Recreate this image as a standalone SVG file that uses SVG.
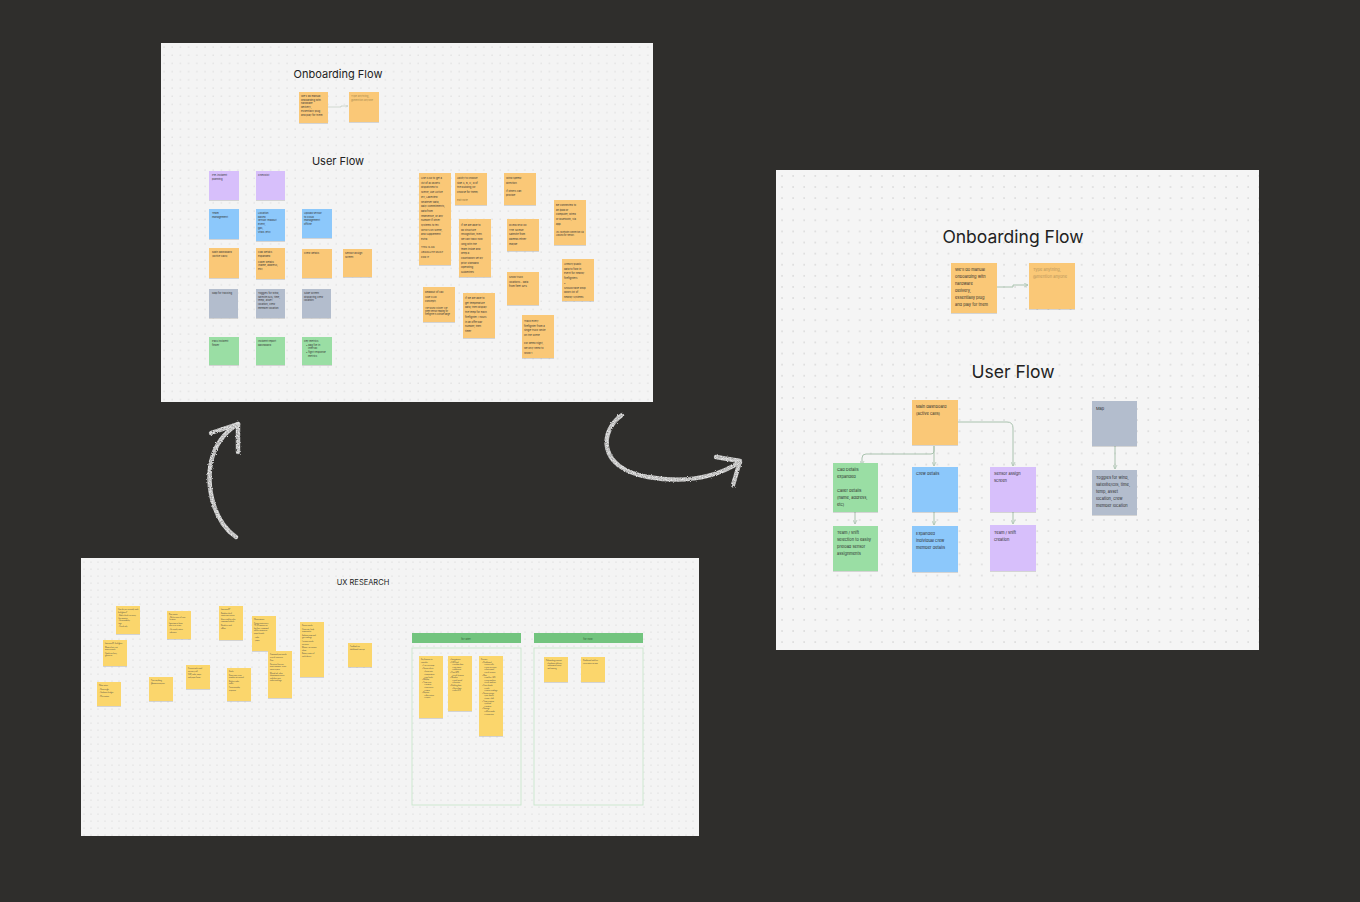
<svg xmlns="http://www.w3.org/2000/svg" width="1360" height="902" viewBox="0 0 1360 902">
<defs>
<style>
.panel{fill:#f4f4f4}
.o{fill:#fac877}.p{fill:#d7bffb}.b{fill:#8cc8fb}.g{fill:#9adea4}.gr{fill:#b3bdcd}.y{fill:#fbd66c}
.t1{font-family:Inter,"Liberation Sans",sans-serif;font-size:4px;fill:#2d2d2d}
.t1l{font-family:Inter,"Liberation Sans",sans-serif;font-size:4px;fill:#b8955c}
.t2{font-family:Inter,"Liberation Sans",sans-serif;font-size:2.6px;fill:#333}
.t2l{font-family:Inter,"Liberation Sans",sans-serif;font-size:2.6px;fill:#a8884f}
.t3{font-family:Inter,"Liberation Sans",sans-serif;font-size:1.6px;fill:#444}
.title{font-family:Inter,"Liberation Sans",sans-serif;fill:#222;text-anchor:middle}
.con{fill:none;stroke:#a9c2ae;stroke-width:1}
.con2{fill:none;stroke:#b9c6bb;stroke-width:0.6}
.chalk{fill:none;stroke:#e4e4e4;stroke-width:4.4;stroke-linecap:round;stroke-linejoin:round}
</style>
<pattern id="dR" width="11.1" height="11.1" patternUnits="userSpaceOnUse" x="781" y="175"><circle cx="1" cy="1" r="0.7" fill="#c2c2c2"/></pattern>
<pattern id="dT" width="8.2" height="8.2" patternUnits="userSpaceOnUse" x="163" y="46"><circle cx="1" cy="1" r="0.55" fill="#c8c8c8"/></pattern>
<pattern id="dB" width="7" height="7" patternUnits="userSpaceOnUse" x="83" y="561"><circle cx="1" cy="1" r="0.5" fill="#c8c8c8"/></pattern>
<filter id="sh" x="-20%" y="-20%" width="140%" height="140%"><feDropShadow dx="0" dy="0.6" stdDeviation="0.5" flood-color="#000" flood-opacity="0.22"/></filter>
<filter id="rough" x="-10%" y="-10%" width="120%" height="120%"><feTurbulence type="fractalNoise" baseFrequency="1.2" numOctaves="2" result="n"/><feDisplacementMap in="SourceGraphic" in2="n" scale="2.5" result="d"/><feTurbulence type="fractalNoise" baseFrequency="2.2" numOctaves="1" result="n2"/><feColorMatrix in="n2" type="matrix" values="0 0 0 0 0  0 0 0 0 0  0 0 0 0 0  0 0 0 -0.9 1.3" result="m"/><feComposite in="d" in2="m" operator="in"/></filter>
<marker id="ah" viewBox="0 0 10 10" refX="9" refY="5" markerWidth="5" markerHeight="5" orient="auto" markerUnits="userSpaceOnUse"><path d="M1,1 L9,5 L1,9" fill="none" stroke="#a9c2ae" stroke-width="1.4"/></marker>
<marker id="ah2" viewBox="0 0 10 10" refX="9" refY="5" markerWidth="3" markerHeight="3" orient="auto" markerUnits="userSpaceOnUse"><path d="M1,1 L9,5 L1,9" fill="none" stroke="#b9c6bb" stroke-width="1.4"/></marker>
</defs>

<rect width="1360" height="902" fill="#2f2e2c"/>

<!-- Top-left panel -->
<g id="panel-top">
<rect class="panel" x="161" y="43" width="492" height="359"/>
<rect fill="url(#dT)" x="161" y="43" width="492" height="359"/>
<text class="title" x="338" y="78" font-size="11">Onboarding Flow</text>
<text class="title" x="338" y="165" font-size="11">User Flow</text>
<g id="tl-notes" filter="url(#sh)">
<rect class="o" x="299" y="92" width="29" height="31"/>
<rect class="o" x="349" y="92" width="30" height="30"/>
<rect class="p" x="209" y="171" width="30" height="29"/>
<rect class="p" x="256" y="171" width="29" height="29"/>
<rect class="b" x="209" y="209" width="30" height="30"/>
<rect class="b" x="256" y="209" width="29" height="32"/>
<rect class="b" x="302" y="209" width="30" height="29"/>
<rect class="o" x="209" y="248" width="30" height="30"/>
<rect class="o" x="256" y="248" width="29" height="31"/>
<rect class="o" x="302" y="249" width="30" height="29"/>
<rect class="o" x="343" y="249" width="29" height="28"/>
<rect class="gr" x="209" y="289" width="29" height="29"/>
<rect class="gr" x="256" y="289" width="29" height="29"/>
<rect class="gr" x="302" y="289" width="29" height="29"/>
<rect class="g" x="209" y="337" width="30" height="28"/>
<rect class="g" x="256" y="337" width="29" height="28"/>
<rect class="g" x="302" y="337" width="30" height="28"/>
<rect class="o" x="419" y="173" width="32" height="92"/>
<rect class="o" x="455" y="173" width="32" height="32"/>
<rect class="o" x="504" y="173" width="32" height="32"/>
<rect class="o" x="459" y="219" width="32" height="58"/>
<rect class="o" x="507" y="219" width="32" height="32"/>
<rect class="o" x="554" y="200" width="32" height="45"/>
<rect class="o" x="562" y="259" width="32" height="42"/>
<rect class="o" x="423" y="287" width="32" height="35"/>
<rect class="o" x="463" y="293" width="32" height="45"/>
<rect class="o" x="507" y="272" width="32" height="33"/>
<rect class="o" x="522" y="315" width="32" height="43"/>
</g>
<path class="con2" d="M328,107 L341,107 L341,106 L348,106" marker-end="url(#ah2)"/>
<g id="tl-text">
<text class="t2" x="301" y="97"><tspan x="301">We'll do manual</tspan><tspan x="301" dy="3.7">onboarding with</tspan><tspan x="301" dy="3.7">hardware</tspan><tspan x="301" dy="3.7">delivery,</tspan><tspan x="301" dy="3.7">essentially plug</tspan><tspan x="301" dy="3.7">and play for them</tspan></text>
<text class="t2l" x="351" y="97"><tspan x="351">Type anything,</tspan><tspan x="351" dy="3.7">@mention anyone</tspan></text>
<text class="t2" x="212" y="176"><tspan x="212">Pre-incident</tspan><tspan x="212" dy="3.7">planning</tspan></text>
<text class="t2" x="258" y="176">Checklist</text>
<text class="t2" x="212" y="214"><tspan x="212">Team</tspan><tspan x="212" dy="3.7">management</tspan></text>
<text class="t2" x="258" y="214"><tspan x="258">Location</tspan><tspan x="258" dy="3.7">based</tspan><tspan x="258" dy="3.7">sensor readout:</tspan><tspan x="258" dy="3.7">Event,</tspan><tspan x="258" dy="3.7">gas,</tspan><tspan x="258" dy="3.7">vitals (etc)</tspan></text>
<text class="t2" x="304" y="214"><tspan x="304">Upload sensor</tspan><tspan x="304" dy="3.7">to cloud</tspan><tspan x="304" dy="3.7">management</tspan><tspan x="304" dy="3.7">offline</tspan></text>
<text class="t2" x="212" y="253"><tspan x="212">Main dashboard</tspan><tspan x="212" dy="3.7">(active calls)</tspan></text>
<text class="t2" x="258" y="253"><tspan x="258">Cad Details</tspan><tspan x="258" dy="3.7">expanded</tspan><tspan x="258" dy="6">Caller details</tspan><tspan x="258" dy="3.7">(name, address,</tspan><tspan x="258" dy="3.7">etc)</tspan></text>
<text class="t2" x="304" y="254">Crew details</text>
<text class="t2" x="345" y="254"><tspan x="345">Sensor assign</tspan><tspan x="345" dy="3.7">screen</tspan></text>
<text class="t2" x="212" y="294">Map for tracking</text>
<text class="t2" x="258" y="294"><tspan x="258">Toggles for wind,</tspan><tspan x="258" dy="3.7">satellite/GIS, time,</tspan><tspan x="258" dy="3.7">temp, asset</tspan><tspan x="258" dy="3.7">location, crew</tspan><tspan x="258" dy="3.7">member location</tspan></text>
<text class="t2" x="304" y="294"><tspan x="304">Slide screen</tspan><tspan x="304" dy="3.7">displaying crew</tspan><tspan x="304" dy="3.7">location</tspan></text>
<text class="t2" x="212" y="342"><tspan x="212">Pass incident</tspan><tspan x="212" dy="3.7">finder</tspan></text>
<text class="t2" x="258" y="342"><tspan x="258">Incident report</tspan><tspan x="258" dy="3.7">dashboard</tspan></text>
<text class="t2" x="304" y="342"><tspan x="304">Key metrics:</tspan><tspan x="306" dy="3.7">• bag file in</tspan><tspan x="308" dy="3.7">interval</tspan><tspan x="306" dy="3.7">• fight response</tspan><tspan x="308" dy="3.7">metrics</tspan></text>
<text class="t2" x="421" y="179"><tspan x="421">Use CAD to get a</tspan><tspan x="421" dy="4.7">list of all assets</tspan><tspan x="421" dy="4.7">dispatched to</tspan><tspan x="421" dy="4.7">scene, use Active</tspan><tspan x="421" dy="4.7">911, Lakeview</tspan><tspan x="421" dy="4.7">whatever data,</tspan><tspan x="421" dy="4.7">daily commitments,</tspan><tspan x="421" dy="4.7">data from</tspan><tspan x="421" dy="4.7">rebellence, or any</tspan><tspan x="421" dy="4.7">number if other</tspan><tspan x="421" dy="4.7">systems to tell</tspan><tspan x="421" dy="4.7">WHO's on scene,</tspan><tspan x="421" dy="4.7">and supplement</tspan><tspan x="421" dy="4.7">extra.</tspan><tspan x="421" dy="8">THIS IS AN</tspan><tspan x="421" dy="4.7">ABSOLUTE MUST</tspan><tspan x="421" dy="4.7">FOR IT</tspan></text>
<text class="t2" x="457" y="179"><tspan x="457">Ability to choose</tspan><tspan x="457" dy="4.7">side A, B, C, D of</tspan><tspan x="457" dy="4.7">the building (or</tspan><tspan x="457" dy="4.7">choose for them)</tspan><tspan x="457" dy="8" fill="#8a6d3b">edit note</tspan></text>
<text class="t2" x="506" y="179"><tspan x="506">Wind speed/</tspan><tspan x="506" dy="4.7">direction</tspan><tspan x="506" dy="8">If others can</tspan><tspan x="506" dy="4.7">provide</tspan></text>
<text class="t2" x="461" y="226"><tspan x="461">If we are able to</tspan><tspan x="461" dy="4.7">do structure</tspan><tspan x="461" dy="4.7">recognition, then</tspan><tspan x="461" dy="4.7">we can track how</tspan><tspan x="461" dy="4.7">long with the</tspan><tspan x="461" dy="4.7">team inside and</tspan><tspan x="461" dy="4.7">keep a</tspan><tspan x="461" dy="4.7">countdown set by</tspan><tspan x="461" dy="4.7">prior Standard</tspan><tspan x="461" dy="4.7">Operating</tspan><tspan x="461" dy="4.7">Guidelines</tspan></text>
<text class="t2" x="509" y="226"><tspan x="509">OVERVIEW OF</tspan><tspan x="509" dy="4.7">THE SCENE:</tspan><tspan x="509" dy="4.7">Satellite from</tspan><tspan x="509" dy="4.7">Dbeeds either</tspan><tspan x="509" dy="4.7">maybe</tspan></text>
<text class="t2" x="556" y="206"><tspan x="556">Be connected to</tspan><tspan x="556" dy="4.7">an ipad or</tspan><tspan x="556" dy="4.7">computer, wired</tspan><tspan x="556" dy="4.7">or bluetooth, via</tspan><tspan x="556" dy="4.7">app.</tspan><tspan x="556" dy="8" font-size="2">(Ex: Bluetooth connection via</tspan><tspan x="556" dy="3" font-size="2">Arduino for sensor)</tspan></text>
<text class="t2" x="564" y="265"><tspan x="564">Armory public</tspan><tspan x="564" dy="4.7">data to flow in</tspan><tspan x="564" dy="4.7">event for nearby</tspan><tspan x="564" dy="4.7">firefighters</tspan><tspan x="564" dy="4.7">•</tspan><tspan x="564" dy="4.7">Should have drop</tspan><tspan x="564" dy="4.7">down list of</tspan><tspan x="564" dy="4.7">nearby systems</tspan></text>
<text class="t2" x="425" y="293"><tspan x="425">Readout of call</tspan><tspan x="425" dy="4.7">(use CAD</tspan><tspan x="425" dy="4.7">concept)</tspan><tspan x="425" dy="7" font-size="2">Use sound 'Clicker' cue</tspan><tspan x="425" dy="3" font-size="2">when sensor reading for</tspan><tspan x="425" dy="3" font-size="2">firefighter is outside range</tspan></text>
<text class="t2" x="465" y="299"><tspan x="465">If we are able to</tspan><tspan x="465" dy="4.7">get temperature</tspan><tspan x="465" dy="4.7">data, then display</tspan><tspan x="465" dy="4.7">the temp for each</tspan><tspan x="465" dy="4.7">firefighter / hours</tspan><tspan x="465" dy="4.7">in an offer bar</tspan><tspan x="465" dy="4.7">number, then</tspan><tspan x="465" dy="4.7">timer.</tspan></text>
<text class="t2" x="509" y="278"><tspan x="509">Show truck</tspan><tspan x="509" dy="4.7">locations - data</tspan><tspan x="509" dy="4.7">from fleet GPS</tspan></text>
<text class="t2" x="524" y="322"><tspan x="524">Track every</tspan><tspan x="524" dy="4.7">firefighter from a</tspan><tspan x="524" dy="4.7">single truck while</tspan><tspan x="524" dy="4.7">on the scene</tspan><tspan x="524" dy="8">For demo night,</tspan><tspan x="524" dy="4.7">we only need to</tspan><tspan x="524" dy="4.7">show 1</tspan></text>
</g>
</g>

<!-- Right panel -->
<g id="panel-right">
<rect fill="#f5f5f5" x="776" y="170" width="483" height="480"/>
<rect fill="url(#dR)" x="776" y="170" width="483" height="480"/>
<text class="title" x="1013" y="243" font-size="17.5">Onboarding Flow</text>
<text class="title" x="1013" y="378" font-size="17.5">User Flow</text>
</g>

<g id="connectors">
<path class="con" d="M997,287 L1013,287 L1013,285 L1028,285" marker-end="url(#ah)"/>
<path class="con" d="M934,446 L934,451 Q934,454 931,454 L866,454 Q862,454 862,458 L862,465" marker-end="url(#ah)"/>
<path class="con" d="M934,446 L934,466" marker-end="url(#ah)"/>
<path class="con" d="M957,422 L1007,422 Q1013,422 1013,428 L1013,466" marker-end="url(#ah)"/>
<path class="con" d="M855,512 L855,524" marker-end="url(#ah)"/>
<path class="con" d="M934,512 L934,525" marker-end="url(#ah)"/>
<path class="con" d="M1013,512 L1013,524" marker-end="url(#ah)"/>
<path class="con" d="M1115,446 L1115,469" marker-end="url(#ah)"/>
</g>

<g id="onb-1" filter="url(#sh)"><rect class="o" x="951" y="263" width="46" height="50"/></g>
<text class="t1" x="955" y="271"><tspan x="955">We'll do manual</tspan><tspan x="955" dy="7">onboarding with</tspan><tspan x="955" dy="7">hardware</tspan><tspan x="955" dy="7">delivery,</tspan><tspan x="955" dy="7">essentially plug</tspan><tspan x="955" dy="7">and play for them</tspan></text>
<g id="onb-2" filter="url(#sh)"><rect class="o" x="1029" y="263" width="46" height="46"/></g>
<text class="t1l" x="1033" y="271"><tspan x="1033">Type anything,</tspan><tspan x="1033" dy="7">@mention anyone</tspan></text>

<g id="main-dashboard" filter="url(#sh)"><rect class="o" x="912" y="400" width="46" height="45"/></g>
<text class="t1" x="916" y="408"><tspan x="916">Main dashboard</tspan><tspan x="916" dy="7">(active calls)</tspan></text>

<g id="map" filter="url(#sh)"><rect class="gr" x="1092" y="401" width="45" height="45"/></g>
<text class="t1" x="1096" y="410">Map</text>

<g id="toggles" filter="url(#sh)"><rect class="gr" x="1092" y="470" width="45" height="45"/></g>
<text class="t1" x="1096" y="479"><tspan x="1096">Toggles for wind,</tspan><tspan x="1096" dy="7">satellite/GIS, time,</tspan><tspan x="1096" dy="7">temp, asset</tspan><tspan x="1096" dy="7">location, crew</tspan><tspan x="1096" dy="7">member location</tspan></text>

<g id="cad-details" filter="url(#sh)"><rect class="g" x="833" y="463" width="45" height="49"/></g>
<text class="t1" x="837" y="471"><tspan x="837">Cad Details</tspan><tspan x="837" dy="7">expanded</tspan><tspan x="837" dy="14">Caller details</tspan><tspan x="837" dy="7">(name, address,</tspan><tspan x="837" dy="7">etc)</tspan></text>

<g id="team-selection" filter="url(#sh)"><rect class="g" x="833" y="526" width="45" height="45"/></g>
<text class="t1" x="837" y="534"><tspan x="837">Team / shift</tspan><tspan x="837" dy="7">selection to easily</tspan><tspan x="837" dy="7">preload sensor</tspan><tspan x="837" dy="7">assignments</tspan></text>

<g id="crew-details" filter="url(#sh)"><rect class="b" x="912" y="467" width="46" height="45"/></g>
<text class="t1" x="916" y="475">Crew details</text>

<g id="crew-expanded" filter="url(#sh)"><rect class="b" x="912" y="526" width="46" height="46"/></g>
<text class="t1" x="916" y="535"><tspan x="916">Expanded</tspan><tspan x="916" dy="7">individual crew</tspan><tspan x="916" dy="7">member details</tspan></text>

<g id="sensor-assign" filter="url(#sh)"><rect class="p" x="990" y="467" width="46" height="45"/></g>
<text class="t1" x="994" y="475"><tspan x="994">Sensor assign</tspan><tspan x="994" dy="7">screen</tspan></text>

<g id="team-creation" filter="url(#sh)"><rect class="p" x="990" y="525" width="46" height="46"/></g>
<text class="t1" x="994" y="534"><tspan x="994">Team / shift</tspan><tspan x="994" dy="7">creation</tspan></text>

<!-- Bottom panel -->
<g id="panel-bottom">
<rect class="panel" x="81" y="558" width="618" height="278"/>
<rect fill="url(#dB)" x="81" y="558" width="618" height="278"/>
<text class="title" x="363" y="585" font-size="7.5">UX RESEARCH</text>
<rect x="412" y="633" width="109" height="10" fill="#72c47e"/>
<rect x="534" y="633" width="109" height="10" fill="#72c47e"/>
<text x="466" y="639.5" font-family="Inter,'Liberation Sans',sans-serif" font-size="2.6" fill="#2f5e35" text-anchor="middle">for later</text>
<text x="588" y="639.5" font-family="Inter,'Liberation Sans',sans-serif" font-size="2.6" fill="#2f5e35" text-anchor="middle">for now</text>
<rect x="412" y="648" width="109" height="157" fill="none" stroke="#c9e6cd" stroke-width="0.9"/>
<rect x="534" y="648" width="109" height="157" fill="none" stroke="#c9e6cd" stroke-width="0.9"/>
<g filter="url(#sh)">
<rect class="y" x="116" y="606" width="24" height="28"/>
<rect class="y" x="167" y="611" width="24" height="28"/>
<rect class="y" x="219" y="606" width="24" height="34"/>
<rect class="y" x="252" y="616" width="24" height="35"/>
<rect class="y" x="300" y="622" width="24" height="55"/>
<rect class="y" x="348" y="643" width="24" height="24"/>
<rect class="y" x="103" y="640" width="24" height="26"/>
<rect class="y" x="268" y="651" width="24" height="47"/>
<rect class="y" x="186" y="665" width="24" height="24"/>
<rect class="y" x="227" y="668" width="24" height="33"/>
<rect class="y" x="149" y="677" width="24" height="24"/>
<rect class="y" x="97" y="682" width="24" height="24"/>
<rect class="y" x="419" y="656" width="24" height="62"/>
<rect class="y" x="448" y="656" width="24" height="55"/>
<rect class="y" x="479" y="656" width="24" height="80"/>
<rect class="y" x="544" y="657" width="24" height="25"/>
<rect class="y" x="581" y="657" width="24" height="25"/>
</g>
<g id="bottom-text">
<text class="t3" x="118" y="610"><tspan x="118">How do you currently track</tspan><tspan x="118" dy="2.6">firefighters?</tspan><tspan x="118" dy="3.6">- Radio check-ins every</tspan><tspan x="118" dy="2.6">  few minutes</tspan><tspan x="118" dy="2.6">- Accountability</tspan><tspan x="118" dy="2.6">  tags</tspan><tspan x="118" dy="2.6">- Visual only</tspan></text>
<text class="t3" x="169" y="615"><tspan x="169">Pain points:</tspan><tspan x="169" dy="2.6">- No live view of crew</tspan><tspan x="169" dy="2.6">  location</tspan><tspan x="169" dy="3.6">Important to know</tspan><tspan x="169" dy="2.6">who is on scene</tspan><tspan x="169" dy="3.6">- Air supply status</tspan><tspan x="169" dy="2.6">  unknown</tspan></text>
<text class="t3" x="221" y="610"><tspan x="221">Interview #2</tspan><tspan x="221" dy="3.6">Battalion chief:</tspan><tspan x="221" dy="2.6">wants one screen</tspan><tspan x="221" dy="3.6">Uses a tablet in the</tspan><tspan x="221" dy="2.6">command vehicle</tspan><tspan x="221" dy="3.6">Needs to work</tspan><tspan x="221" dy="2.6">offline</tspan></text>
<text class="t3" x="254" y="620"><tspan x="254">Observations:</tspan><tspan x="254" dy="3.6">Crews rotate every</tspan><tspan x="254" dy="2.6">20-30 minutes on</tspan><tspan x="254" dy="2.6">big fires; command</tspan><tspan x="254" dy="2.6">tracks rotation on</tspan><tspan x="254" dy="2.6">paper boards</tspan><tspan x="254" dy="3.6">- radio</tspan><tspan x="254" dy="3.6">- paper</tspan></text>
<text class="t3" x="302" y="626"><tspan x="302">Sensor needs:</tspan><tspan x="302" dy="3.6">Heart rate, body</tspan><tspan x="302" dy="2.6">temperature</tspan><tspan x="302" dy="3.6">Ambient temp and</tspan><tspan x="302" dy="2.6">gas readings</tspan><tspan x="302" dy="3.6">Location inside</tspan><tspan x="302" dy="2.6">structure</tspan><tspan x="302" dy="3.6">Motion / no-motion</tspan><tspan x="302" dy="2.6">alarm</tspan><tspan x="302" dy="3.6">Battery status of</tspan><tspan x="302" dy="2.6">each device</tspan></text>
<text class="t3" x="350" y="647"><tspan x="350">Feedback on</tspan><tspan x="350" dy="2.6">dashboard concept</tspan></text>
<text class="t3" x="105" y="644"><tspan x="105">Interview #1: firefighter</tspan><tspan x="105" dy="3.6">Wants alerts, not</tspan><tspan x="105" dy="2.6">more screens</tspan><tspan x="105" dy="3.6">Hands are busy,</tspan><tspan x="105" dy="2.6">gloves on</tspan></text>
<text class="t3" x="270" y="655"><tspan x="270">Command post needs</tspan><tspan x="270" dy="2.6">a quick overview</tspan><tspan x="270" dy="3.6">Size:</tspan><tspan x="270" dy="3.6">Structure fires are</tspan><tspan x="270" dy="2.6">most common; crews</tspan><tspan x="270" dy="2.6">enter in pairs</tspan><tspan x="270" dy="3.6">Mutual aid: other</tspan><tspan x="270" dy="2.6">departments arrive</tspan><tspan x="270" dy="2.6">with their own</tspan><tspan x="270" dy="2.6">radios and tags</tspan></text>
<text class="t3" x="188" y="669"><tspan x="188">Current tools used</tspan><tspan x="188" dy="2.6">on every call</tspan><tspan x="188" dy="3.6">CAD, radio, maps</tspan><tspan x="188" dy="2.6">and paper forms</tspan></text>
<text class="t3" x="229" y="672"><tspan x="229">Goals:</tspan><tspan x="229" dy="3.6">Keep every crew</tspan><tspan x="229" dy="2.6">member accounted</tspan><tspan x="229" dy="3.6">Reduce radio</tspan><tspan x="229" dy="2.6">traffic</tspan><tspan x="229" dy="3.6">Faster mayday</tspan><tspan x="229" dy="2.6">response</tspan></text>
<text class="t3" x="151" y="681"><tspan x="151">Type anything,</tspan><tspan x="151" dy="2.6">@mention anyone</tspan></text>
<text class="t3" x="99" y="686"><tspan x="99">Other notes:</tspan><tspan x="99" dy="3.6">- Demo night</tspan><tspan x="99" dy="3.6">- Hardware budget</tspan><tspan x="99" dy="3.6">- Pilot station</tspan></text>
<text class="t3" x="421" y="660"><tspan x="421">Key features to</tspan><tspan x="421" dy="2.6">consider:</tspan><tspan x="422" dy="3.6">• Live crew map</tspan><tspan x="422" dy="2.6">• Sensor alerts</tspan><tspan x="424" dy="3.6">◦ heart rate</tspan><tspan x="424" dy="2.6">◦ temperature</tspan><tspan x="424" dy="2.6">◦ gas levels</tspan><tspan x="422" dy="2.6">• Mayday</tspan><tspan x="422" dy="2.6">• Team view</tspan><tspan x="424" dy="2.6">◦ rotation</tspan><tspan x="424" dy="2.6">◦ time on air</tspan><tspan x="424" dy="2.6">◦ status</tspan><tspan x="422" dy="2.6">• Reports</tspan><tspan x="424" dy="2.6">◦ after action</tspan><tspan x="424" dy="2.6">◦ export</tspan></text>
<text class="t3" x="450" y="660"><tspan x="450">• Integrations:</tspan><tspan x="450" dy="2.6">• CAD feed</tspan><tspan x="452" dy="2.6">◦ incident data</tspan><tspan x="452" dy="2.6">◦ unit status</tspan><tspan x="452" dy="2.6">◦ addresses</tspan><tspan x="450" dy="2.6">• Fleet GPS</tspan><tspan x="452" dy="2.6">◦ truck location</tspan><tspan x="450" dy="2.6">• Weather</tspan><tspan x="452" dy="2.6">◦ wind speed</tspan><tspan x="452" dy="2.6">◦ direction</tspan><tspan x="450" dy="2.6">• Building data</tspan><tspan x="452" dy="2.6">◦ floor plans</tspan><tspan x="452" dy="2.6">◦ sides A-D</tspan></text>
<text class="t3" x="481" y="660"><tspan x="481">Screens:</tspan><tspan x="482" dy="2.6">• Dashboard</tspan><tspan x="484" dy="2.6">◦ active calls</tspan><tspan x="484" dy="2.6">◦ crew on scene</tspan><tspan x="484" dy="2.6">◦ alerts panel</tspan><tspan x="484" dy="2.6">◦ quick actions</tspan><tspan x="482" dy="2.6">• Map</tspan><tspan x="484" dy="2.6">◦ satellite / GIS</tspan><tspan x="484" dy="2.6">◦ crew markers</tspan><tspan x="484" dy="2.6">◦ truck markers</tspan><tspan x="482" dy="2.6">• Crew details</tspan><tspan x="484" dy="2.6">◦ vitals</tspan><tspan x="484" dy="2.6">◦ sensor readings</tspan><tspan x="482" dy="2.6">• Sensor assign</tspan><tspan x="484" dy="2.6">◦ pair device</tspan><tspan x="484" dy="2.6">◦ team / shift</tspan><tspan x="482" dy="2.6">• Team creation</tspan><tspan x="484" dy="2.6">◦ preload</tspan><tspan x="484" dy="2.6">◦ rotation</tspan><tspan x="482" dy="2.6">• Settings</tspan><tspan x="484" dy="2.6">◦ offline mode</tspan><tspan x="484" dy="2.6">◦ connection</tspan></text>
<text class="t3" x="546" y="661"><tspan x="546">Onboarding concept:</tspan><tspan x="547" dy="2.6">• hardware delivery</tspan><tspan x="547" dy="2.6">  with manual setup</tspan><tspan x="547" dy="2.6">  and training</tspan></text>
<text class="t3" x="583" y="661"><tspan x="583">Dashboard with live</tspan><tspan x="583" dy="2.6">crew status on map</tspan></text>
</g>
</g>

<!-- Chalk arrows -->
<g id="chalk-arrows" filter="url(#rough)">
<path class="chalk" d="M622,415 C600,430 596,468 648,477 C688,484 718,476 740,462"/>
<path class="chalk" d="M716,457 L740,461 L733,485"/>
<path class="chalk" d="M236,537 C214,522 206,488 211,462 C215,444 225,432 238,424"/>
<path class="chalk" d="M211,433 L238,424 L238,452"/>
</g>
</svg>
